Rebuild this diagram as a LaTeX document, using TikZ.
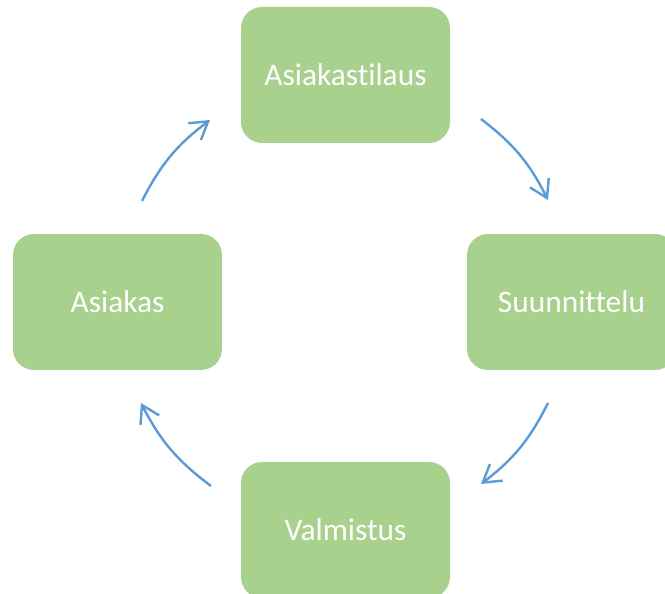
\documentclass[tikz,border=0pt]{standalone}
\usepackage{fontspec}
\setmainfont{Carlito}[Ligatures=NoCommon]
\usetikzlibrary{arrows.meta}
\definecolor{boxgreen}{HTML}{A9D18E}
\definecolor{arrowblue}{HTML}{5B9BD5}
\tikzset{
  stage/.style={
    shape = rectangle,
    rounded corners = 21pt,
    fill = boxgreen,
    minimum width = 209pt,
    minimum height = 136pt,
    inner sep = 0pt,
    text = white,
    font = \fontsize{31.4}{36}\selectfont
  },
  flow/.style={
    draw = arrowblue,
    line width = 2.4pt,
    -{Straight Barb[length=17pt,width=21pt]},
    bend left = 13
  }
}

\begin{document}
\begin{tikzpicture}[x=1pt,y=1pt]
  \useasboundingbox (0,0) rectangle (665,594);
  \clip (0,0) rectangle (665,594);

  \node[stage] (tilaus) at (345.5,519) {Asiakastilaus};
  \node[stage] (suunnittelu) at (571.5,292) {Suunnittelu};
  \node[stage] (valmistus) at (345.5,64) {Valmistus};
  \node[stage] (asiakas) at (117.5,292) {Asiakas};

  % arrow ends on the circle round the boxes
  \coordinate (a1) at (481,475);
  \coordinate (a2) at (548,394);
  \coordinate (b1) at (548,191);
  \coordinate (b2) at (481,110);
  \coordinate (c1) at (211,108);
  \coordinate (c2) at (141,191);
  \coordinate (d1) at (142,393);
  \coordinate (d2) at (210,474);

  \draw[flow] (a1) to (a2);
  \draw[flow] (b1) to (b2);
  \draw[flow] (c1) to (c2);
  \draw[flow] (d1) to (d2);
\end{tikzpicture}
\end{document}
